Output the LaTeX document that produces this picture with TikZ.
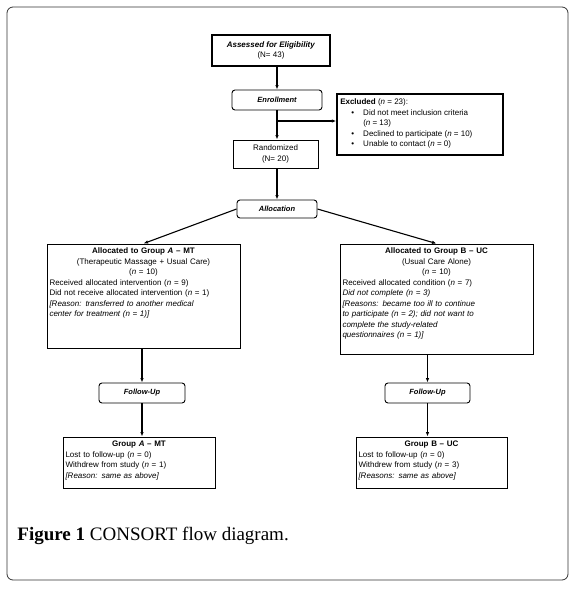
\documentclass[tikz,border=0pt]{standalone}
\usepackage{fontspec}
\setmainfont{Liberation Serif}
\setsansfont{Liberation Sans}
\usetikzlibrary{arrows.meta}

\newcommand{\exclitem}{\hspace*{11pt}\makebox[12pt][l]{\textbullet}}

\begin{document}
\begin{tikzpicture}[x=1pt, y=-1pt, line width=0.9pt,
    box/.style={draw, inner sep=0pt},
    stagebox/.style={draw, rounded corners=3pt, inner sep=0pt, font=\sffamily\bfseries\itshape\fontsize{7.5}{8}\selectfont},
    boxtext/.style={inner xsep=2.5pt, inner ysep=4pt, font=\sffamily\fontsize{8}{10.5}\selectfont, align=left},
    flow/.style={-{Latex[length=4.5pt, width=3.5pt]}, line width=1.1pt}]
    \useasboundingbox (0,0) rectangle (575,590);

    % Frame
    \draw[line width=0.8pt, rounded corners=6pt, black!80] (7,7) rectangle (568,580);

    % Enrollment stage
    \node[box, line width=2.5pt, minimum width=118pt, minimum height=31pt, align=center,
          font=\sffamily\fontsize{8}{10.5}\selectfont] (assess) at (271,50.5)
          {\textbf{\textit{Assessed for Eligibility}}\\(N= 43)};
    \node[stagebox, minimum width=90pt, minimum height=20pt] (enrol) at (277,100) {Enrollment};
    \node[box, line width=1.4pt, minimum width=166pt, minimum height=61pt] (excl) at (420,124.5) {};
    \node[boxtext, anchor=north west, inner xsep=3.5pt, inner ysep=5pt] (excltext) at (excl.north west)
          {\textbf{Excluded} (\textit{n} = 23):\\
           \exclitem Did not meet inclusion criteria\\
           \hspace*{23pt}(\textit{n} = 13)\\
           \exclitem Declined to participate (\textit{n} = 10)\\
           \exclitem Unable to contact (\textit{n} = 0)};
    \node[box, minimum width=85pt, minimum height=28pt, align=center,
          font=\sffamily\fontsize{8}{10.5}\selectfont] (rand) at (275.5,154) {Randomized\\(N= 20)};
    \node[stagebox, minimum width=80pt, minimum height=18pt] (alloc) at (277,209) {Allocation};

    % Allocation boxes
    \node[box, minimum width=193pt, minimum height=104pt] (gA) at (143.5,296) {};
    \node[boxtext, anchor=north, text width=188pt] (gAtext) at (gA.north)
          {{\centering\textbf{Allocated to Group \textit{A} -- MT}\\
            (Therapeutic Massage + Usual Care)\\
            (\textit{n} = 10)\par}
           Received allocated intervention (\textit{n} = 9)\\
           Did not receive allocated intervention (\textit{n} = 1)\\
           \textit{[Reason: transferred to another medical}\\
           \textit{center for treatment (n = 1)]}};
    \node[box, minimum width=193pt, minimum height=110pt] (gB) at (436.5,299) {};
    \node[boxtext, anchor=north, text width=188pt] (gBtext) at (gB.north)
          {{\centering\textbf{Allocated to Group B -- UC}\\
            (Usual Care Alone)\\
            (\textit{n} = 10)\par}
           Received allocated condition (\textit{n} = 7)\\
           \textit{Did not complete (n = 3)}\\
           \textit{[Reasons: became too ill to continue}\\
           \textit{to participate (n = 2); did not want to}\\
           \textit{complete the study-related}\\
           \textit{questionnaires (n = 1)]}};

    % Follow-up stage
    \node[stagebox, minimum width=86pt, minimum height=20pt] (fuA) at (142,393) {Follow-Up};
    \node[stagebox, minimum width=85pt, minimum height=20pt] (fuB) at (427.5,393) {Follow-Up};
    \node[box, minimum width=152pt, minimum height=51pt] (endA) at (139,462.5) {};
    \node[boxtext, anchor=north, text width=147pt] (endAtext) at (endA.north)
          {{\centering\textbf{Group \textit{A} -- MT}\par}
           Lost to follow-up (\textit{n} = 0)\\
           Withdrew from study (\textit{n} = 1)\\
           \textit{[Reason: same as above]}};
    \node[box, minimum width=151pt, minimum height=51pt] (endB) at (431.5,462.5) {};
    \node[boxtext, anchor=north, text width=146pt] (endBtext) at (endB.north)
          {{\centering\textbf{Group B -- UC}\par}
           Lost to follow-up (\textit{n} = 0)\\
           Withdrew from study (\textit{n} = 3)\\
           \textit{[Reasons: same as above]}};

    % Connectors
    \coordinate (split) at (277,121);
    \draw[flow] (assess.south -| enrol) -- (enrol);
    \draw[flow] (enrol) -- (rand.north -| enrol);
    \draw[flow] (split) -- (split -| excl.west);
    \draw[flow] (rand.south -| alloc) -- (alloc);
    \draw[flow] (alloc.west) -- (gA.north);
    \draw[flow] (alloc.east) -- (gB.north);
    \draw[flow] (gA.south -| fuA) -- (fuA);
    \draw[flow] (gB.south -| fuB) -- (fuB);
    \draw[flow] (fuA) -- (endA.north -| fuA);
    \draw[flow] (fuB) -- (endB.north -| fuB);

    % Caption
    \node[anchor=west, inner sep=0pt, font=\fontsize{19}{22}\selectfont] (caption) at (17,536)
          {\textbf{Figure 1} CONSORT flow diagram.};
\end{tikzpicture}
\end{document}
